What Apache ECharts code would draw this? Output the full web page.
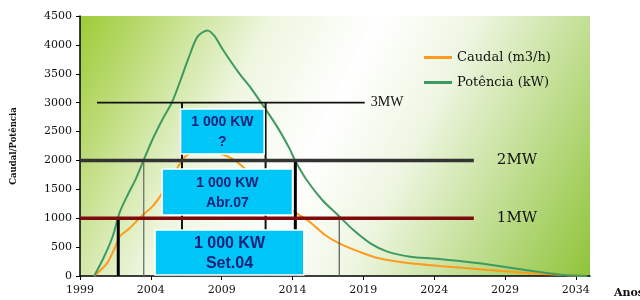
<!DOCTYPE html>
<html>
<head>
<meta charset="utf-8">
<script src="https://cdn.jsdelivr.net/npm/echarts@6/dist/echarts.min.js"></script>
<style>
  html, body { margin: 0; background: #fff; }
  #main { width: 640px; height: 300px; }
</style>
</head>
<body>
<div id="main"></div>
<script>
// Potência (kW)
const potYears = [2000.0, 2000.7, 2001.3, 2001.8, 2002.4, 2002.9, 2003.5, 2004.1, 2004.8, 2005.5, 2006.1, 2006.7, 2007.3, 2008.0, 2008.5, 2009.1, 2010.2, 2011.1, 2011.8, 2012.9, 2013.8, 2014.2, 2015.0, 2016.1, 2017.2, 2018.3, 2019.5, 2020.7, 2022.3, 2024.2, 2027.2, 2030.8, 2033.1, 2034.8];
const potValues = [0, 334, 680, 1100, 1420, 1660, 2008, 2354, 2700, 3012, 3392, 3796, 4142, 4250, 4150, 3911, 3520, 3240, 2995, 2590, 2200, 1990, 1661, 1315, 1056, 796, 566, 421, 334, 300, 219, 92, 17, 0];
// Caudal (m3/h)
const carYears = [2000.0, 2000.9, 2001.5, 2001.8, 2002.5, 2003.3, 2004.1, 2004.8, 2005.6, 2006.4, 2007.2, 2008.0, 2008.9, 2009.7, 2010.5, 2011.5, 2012.5, 2013.4, 2014.2, 2015.2, 2016.3, 2017.3, 2018.7, 2020.1, 2022.3, 2024.3, 2027.2, 2030.8, 2033.1, 2034.8];
const carValues = [0, 219, 507, 680, 825, 1027, 1200, 1431, 1750, 2065, 2160, 2180, 2120, 2036, 1892, 1650, 1420, 1240, 1100, 940, 710, 566, 421, 306, 219, 175, 116, 46, 17, 0];

const yearTicks = [1999, 2004, 2009, 2014, 2019, 2024, 2029, 2034];

// linhas de potência (MW)
const mwLevels = [3000, 2000, 1000];
const mwStart = [2000.2, 1999, 1999];
const mwEnd = [2019.1, 2026.8, 2026.8];
const mwLabels = ['3MW', '2MW', '1MW'];

// linhas verticais
const dropYears = [2001.7, 2003.5, 2006.2, 2012.1, 2014.2, 2017.3];
const dropTops = [1000, 2000, 3000, 3000, 2000, 1000];

// caixas
const boxX0 = [2006.1, 2004.8, 2004.3];
const boxX1 = [2012.0, 2014.0, 2014.8];
const boxY0 = [2111, 1056, 17];
const boxY1 = [2890, 1852, 796];
const boxLine1 = ['1 000 KW', '1 000 KW', '1 000 KW'];
const boxLine2 = ['?', 'Abr.07', 'Set.04'];

// estilos
const mwStyle = [
  { stroke: '#111', lineWidth: 1.8, font: 'Liberation Serif', size: 14, gap: 6 },
  { stroke: '#333', lineWidth: 3.5, font: 'DejaVu Serif', size: 15, gap: 23 },
  { stroke: '#7d0b0b', lineWidth: 3.5, font: 'DejaVu Serif', size: 15, gap: 23 }
];
const dropStyle = [
  { stroke: '#000', lineWidth: 3 },
  { stroke: '#666', lineWidth: 1.2 },
  { stroke: '#111', lineWidth: 2 },
  { stroke: '#111', lineWidth: 2 },
  { stroke: '#000', lineWidth: 3 },
  { stroke: '#555', lineWidth: 1.2 }
];
const boxFontSize = [14, 14, 16];

const myChart = echarts.init(document.getElementById('main'), null, { renderer: 'canvas' });

const option = {
  animation: false,
  grid: {
    left: 80, right: 50, top: 16, bottom: 24,
    outerBoundsMode: 'none',
    containLabel: false,
    show: true,
    borderWidth: 0,
    backgroundColor: new echarts.graphic.LinearGradient(0, 0, 1, 1, [
      { offset: 0, color: '#9dcb36' },
      { offset: 0.3, color: '#eef6e0' },
      { offset: 0.47, color: '#ffffff' },
      { offset: 0.62, color: '#eef6e2' },
      { offset: 1, color: '#8fc43a' }
    ])
  },
  legend: {
    orient: 'vertical',
    left: 424, top: 50, padding: 0,
    itemGap: 10, itemWidth: 28, itemHeight: 3,
    icon: 'rect',
    textStyle: { fontFamily: 'DejaVu Serif', fontSize: 13, color: '#111', lineHeight: 15 },
    data: ['Caudal (m3/h)', 'Potência (kW)']
  },
  xAxis: {
    type: 'value',
    min: 1999, max: 2035,
    name: 'Anos',
    nameLocation: 'end',
    nameGap: 24,
    nameTextStyle: { fontFamily: 'DejaVu Serif', fontSize: 11, fontWeight: 'bold', color: '#111', verticalAlign: 'top', padding: [12, 0, 0, 0] },
    axisLine: { lineStyle: { color: '#000', width: 1.5 } },
    axisTick: { length: 4, lineStyle: { color: '#000' }, customValues: yearTicks },
    axisLabel: { customValues: yearTicks, margin: 9, fontFamily: 'DejaVu Serif', fontSize: 11, color: '#111', formatter: (v) => String(v) },
    splitLine: { show: false }
  },
  yAxis: {
    type: 'value',
    min: 0, max: 4500, interval: 500,
    name: 'Caudal/Potência',
    nameLocation: 'middle',
    nameGap: 62,
    nameTextStyle: { fontFamily: 'DejaVu Serif', fontSize: 8.5, fontWeight: 'bold', color: '#111' },
    axisLine: { show: true, lineStyle: { color: '#000', width: 1.5 } },
    axisTick: { show: true, length: 4, lineStyle: { color: '#000' } },
    axisLabel: { margin: 8, fontFamily: 'DejaVu Serif', fontSize: 11, color: '#111', formatter: (v) => String(v) },
    splitLine: { show: false }
  },
  series: [
    {
      name: 'Caudal (m3/h)',
      type: 'line',
      data: carYears.map((x, i) => [x, carValues[i]]),
      smooth: 0.3,
      showSymbol: false,
      color: '#ff9a1a',
      lineStyle: { width: 2 },
      z: 2
    },
    {
      name: 'Potência (kW)',
      type: 'line',
      data: potYears.map((x, i) => [x, potValues[i]]),
      smooth: 0.3,
      showSymbol: false,
      color: '#3f9a62',
      lineStyle: { width: 2 },
      z: 2
    },
    {
      type: 'custom',
      data: dropYears.map((x, i) => [x, 0, x, dropTops[i]]),
      renderItem: (params, api) => {
        const s = dropStyle[params.dataIndex];
        const a = api.coord([api.value(0), api.value(1)]);
        const b = api.coord([api.value(2), api.value(3)]);
        return { type: 'line', shape: { x1: a[0], y1: a[1], x2: b[0], y2: b[1] }, style: { stroke: s.stroke, lineWidth: s.lineWidth } };
      },
      silent: true,
      z: 3
    },
    {
      type: 'custom',
      data: mwLevels.map((v, i) => [mwStart[i], v, mwEnd[i], v]),
      renderItem: (params, api) => {
        const i = params.dataIndex;
        const s = mwStyle[i];
        const a = api.coord([api.value(0), api.value(1)]);
        const b = api.coord([api.value(2), api.value(3)]);
        return {
          type: 'group',
          children: [
            { type: 'line', shape: { x1: a[0], y1: a[1], x2: b[0], y2: b[1] }, style: { stroke: s.stroke, lineWidth: s.lineWidth } },
            { type: 'text', x: b[0] + s.gap, y: b[1], style: { text: mwLabels[i], fontFamily: s.font, fontSize: s.size, fill: '#111', align: 'left', verticalAlign: 'middle' } }
          ]
        };
      },
      silent: true,
      clip: false,
      z: 4
    },
    {
      type: 'custom',
      data: boxX0.map((x, i) => [x, boxY0[i], boxX1[i], boxY1[i]]),
      renderItem: (params, api) => {
        const i = params.dataIndex;
        const a = api.coord([api.value(0), api.value(3)]);
        const b = api.coord([api.value(2), api.value(1)]);
        return {
          type: 'group',
          children: [
            { type: 'rect', shape: { x: a[0], y: a[1], width: b[0] - a[0], height: b[1] - a[1] }, style: { fill: '#00c6f8', stroke: '#ffffff', lineWidth: 1.5 } },
            { type: 'text', x: (a[0] + b[0]) / 2, y: (a[1] + b[1]) / 2 + 1, style: { text: boxLine1[i] + '\n' + boxLine2[i], fontFamily: 'Liberation Sans', fontWeight: 'bold', fontSize: boxFontSize[i], lineHeight: 20, fill: '#17237a', align: 'center', verticalAlign: 'middle' } }
          ]
        };
      },
      silent: true,
      z: 6
    }
  ]
};

myChart.setOption(option);
</script>
</body>
</html>
